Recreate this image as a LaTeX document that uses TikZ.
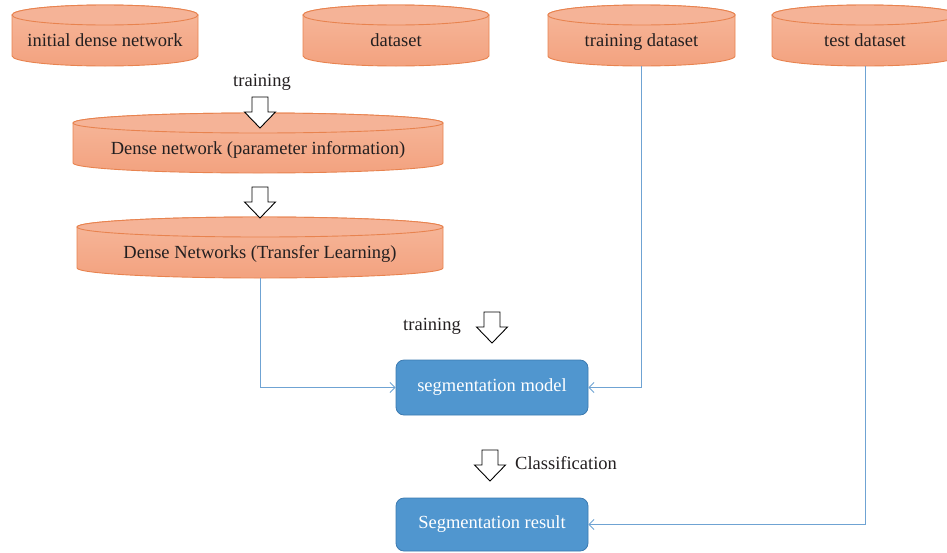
\documentclass[tikz,border=0pt]{standalone}
\usepackage{fontspec}
\setmainfont{Liberation Serif}
\usetikzlibrary{arrows.meta}

\definecolor{drumedge}{HTML}{E8834F}
\definecolor{drumhi}{HTML}{F6B89C}
\definecolor{drumlo}{HTML}{F3A27F}
\definecolor{drumcap}{HTML}{F5B397}
\definecolor{boxfill}{HTML}{5096CF}
\definecolor{boxedge}{HTML}{3C7AB0}
\definecolor{wire}{HTML}{6FA3D3}
\definecolor{ink}{HTML}{231F20}

\tikzset{
  drumtextfont/.style={font=\fontsize{18.5}{21}\selectfont, text height=12.5pt, text depth=4pt},
  drumside/.style={draw=drumedge, line width=0.9pt, top color=drumhi, bottom color=drumlo},
  drumtop/.style={draw=drumedge, line width=0.9pt, fill=drumcap},
  drumtext/.style={drumtextfont, text=ink, inner sep=0pt},
  blockbox/.style={draw=boxedge, line width=0.8pt, fill=boxfill, rounded corners=8pt,
    text=white, drumtextfont, minimum width=192pt, inner sep=0pt},
  wirelink/.style={draw=wire, line width=0.9pt, -{Straight Barb[length=5pt,width=10pt]}},
  hollow/.style={draw=black, line width=0.9pt, fill=white},
  caption/.style={drumtextfont, text=ink, inner sep=0pt}
}

% drum: name, left x, right x, top y, bottom y (y measured downward), label
\newcommand\drum[6]{%
  \pgfmathsetmacro\dl{#2}\pgfmathsetmacro\dr{#3}%
  \pgfmathsetmacro\dcx{(#2+#3)/2}\pgfmathsetmacro\drx{(#3-#2)/2}%
  \pgfmathsetmacro\dt{-(#4)-10}\pgfmathsetmacro\db{-(#5)+10}%
  \pgfmathsetmacro\dty{-((#4)+20+(#5))/2+3}%
  \path[drumside] (\dl,\dt) -- (\dl,\db)
     arc[start angle=180, end angle=360, x radius=\drx, y radius=10]
     -- (\dr,\dt)
     arc[start angle=0, end angle=180, x radius=\drx, y radius=10] -- cycle;
  \path[drumtop] (\dcx,\dt) ellipse[x radius=\drx, y radius=10];
  \node[drumtext] (#1) at (\dcx,\dty) {#6};
  \coordinate (#1-bot) at (\dcx,-#5);
  \coordinate (#1-top) at (\dcx,-#4);
}

% hollow down arrow: centre x, top y (y measured downward)
\newcommand\hollowdown[2]{%
  \path[hollow] ({#1-8},-#2) -- ({#1+8},-#2) -- ({#1+8},{-(#2)-15})
    -- ({#1+15.5},{-(#2)-15}) -- (#1,{-(#2)-31}) -- ({#1-15.5},{-(#2)-15})
    -- ({#1-8},{-(#2)-15}) -- cycle;
}

\begin{document}
\begin{tikzpicture}[x=1pt,y=1pt]
  \useasboundingbox (0,0) rectangle (947,-552);
  \clip (0,0) rectangle (947,-552);

  % source stores
  \drum{init}{12}{198}{5}{66}{initial dense network}
  \drum{data}{303}{489}{5}{66}{dataset}
  \drum{train}{548}{735}{5}{66}{training dataset}
  \drum{test}{772}{958}{5}{66}{test dataset}

  % network stages
  \drum{param}{73}{443}{113}{173}{Dense network (parameter information)}
  \drum{transfer}{77}{443}{217}{278}{Dense Networks (Transfer Learning)}

  % model and result blocks
  \node[blockbox, minimum height=55pt] (model) at (492,-387.5) {segmentation model};
  \node[blockbox, minimum height=53pt] (result) at (492,-524.5) {Segmentation result};

  % step arrows and their captions
  \node[caption] (lbltrainA) at (262,-82) {training};
  \hollowdown{260}{97}
  \hollowdown{260}{187}
  \node[caption] (lbltrainB) at (432,-326) {training};
  \hollowdown{492}{312}
  \hollowdown{490}{450}
  \node[caption, anchor=west] (lblclass) at (515,-465) {Classification};

  % data flow
  \draw[wirelink] (transfer-bot) |- (model.west);
  \draw[wirelink] (train-bot) |- (model.east);
  \draw[wirelink] (test-bot) |- (result.east);
\end{tikzpicture}
\end{document}
